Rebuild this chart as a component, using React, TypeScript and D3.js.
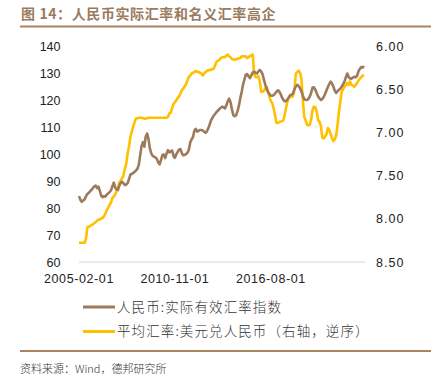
import React from "react";
import * as d3 from "d3";

const title = "图 14：人民币实际汇率和名义汇率高企";
const source = "资料来源：Wind，德邦研究所";
const seriesNames = ["人民币:实际有效汇率指数", "平均汇率:美元兑人民币（右轴，逆序）"];
const startMonth = "2005-02-01";
const tickLabels = ["2005-02-01", "2010-11-01", "2016-08-01"];
const leftTicks = [60, 70, 80, 90, 100, 110, 120, 130, 140];
const rightTicks = [6.0, 6.5, 7.0, 7.5, 8.0, 8.5];

// 人民币:实际有效汇率指数 (monthly, 2005-02 .. 2022-03)
const reer = [
  84.4, 83.0, 82.3, 82.8, 83.2, 84.3, 85.2, 85.6, 86.2, 86.7,
  87.4, 88.0, 88.3, 87.4, 87.9, 86.3, 84.5, 84.0, 84.4, 84.2,
  85.0, 85.4, 85.9, 86.5, 88.0, 89.4, 87.6, 86.9, 86.7, 88.3,
  89.3, 89.7, 89.2, 88.5, 88.7, 89.2, 90.8, 92.4, 92.6, 93.0,
  93.4, 93.9, 94.5, 96.0, 99.5, 103.0, 104.4, 102.7, 106.5, 107.6,
  105.5, 102.0, 100.2, 99.3, 99.0, 98.7, 98.2, 96.8, 96.2, 97.8,
  99.6, 99.8, 98.5, 100.2, 101.4, 100.6, 101.0, 101.3, 99.2, 98.6,
  99.9, 100.8, 101.7, 101.8, 100.2, 99.5, 99.7, 99.9, 100.5, 101.5,
  104.3, 105.4, 106.3, 108.6, 109.3, 108.3, 108.6, 108.9, 108.9, 108.7,
  108.3, 107.8, 108.4, 109.5, 111.0, 112.5, 113.4, 114.3, 114.9, 115.6,
  116.1, 116.7, 117.1, 117.5, 117.3, 116.9, 118.0, 119.6, 120.5, 119.2,
  116.6, 114.4, 114.0, 114.3, 115.9, 117.8, 120.6, 123.0, 125.7, 127.6,
  129.4, 129.6, 128.7, 128.1, 129.2, 130.2, 130.5, 130.0, 129.8, 130.6,
  131.1, 130.6, 129.6, 127.6, 125.6, 124.2, 122.9, 122.2, 121.6, 121.6,
  121.8, 122.4, 123.0, 123.6, 123.2, 122.2, 121.0, 120.1, 119.5, 119.6,
  120.3, 121.0, 121.8, 122.0, 122.5, 124.0, 125.0, 125.6, 125.2, 124.3,
  123.2, 121.6, 120.3, 120.1, 120.0, 120.4, 121.3, 122.7, 124.6, 124.7,
  123.8, 122.5, 121.3, 120.6, 120.0, 120.4, 121.1, 122.2, 123.5, 124.8,
  125.9, 126.8, 126.1, 124.9, 123.4, 122.6, 123.3, 123.8, 124.2, 125.0,
  125.9, 126.9, 128.5, 129.8, 128.4, 128.0, 127.9, 128.3, 128.6, 128.4,
  128.9, 130.6, 131.5, 132.2, 132.0, 132.6,
];

// 平均汇率:美元兑人民币 (monthly, right axis, reversed)
const usdcny = [
  8.277, 8.277, 8.277, 8.277, 8.277, 8.233, 8.102, 8.09, 8.085, 8.07,
  8.065, 8.05, 8.04, 8.02, 8.01, 8.01, 7.995, 7.99, 7.97, 7.94,
  7.9, 7.87, 7.84, 7.81, 7.76, 7.74, 7.72, 7.68, 7.64, 7.58,
  7.56, 7.53, 7.5, 7.42, 7.36, 7.24, 7.16, 7.05, 6.99, 6.93,
  6.88, 6.84, 6.835, 6.83, 6.83, 6.83, 6.835, 6.84, 6.84, 6.835,
  6.83, 6.83, 6.83, 6.83, 6.83, 6.83, 6.83, 6.83, 6.83, 6.83,
  6.83, 6.83, 6.83, 6.83, 6.82, 6.78, 6.77, 6.72, 6.67, 6.65,
  6.63, 6.6, 6.58, 6.55, 6.51, 6.49, 6.47, 6.44, 6.4, 6.36,
  6.34, 6.32, 6.31, 6.3, 6.29, 6.3, 6.3, 6.31, 6.32, 6.34,
  6.32, 6.3, 6.29, 6.28, 6.28, 6.27, 6.27, 6.26, 6.22, 6.18,
  6.17, 6.16, 6.14, 6.13, 6.13, 6.13, 6.11, 6.1, 6.12, 6.13,
  6.15, 6.155, 6.16, 6.15, 6.15, 6.14, 6.14, 6.12, 6.12, 6.12,
  6.12, 6.14, 6.13, 6.115, 6.11, 6.1, 6.33, 6.36, 6.36, 6.35,
  6.4, 6.53, 6.53, 6.52, 6.49, 6.47, 6.53, 6.59, 6.64, 6.66,
  6.72, 6.8, 6.89, 6.89, 6.88, 6.875, 6.87, 6.86, 6.79, 6.71,
  6.64, 6.59, 6.57, 6.59, 6.58, 6.5, 6.32, 6.3, 6.285, 6.31,
  6.38, 6.62, 6.82, 6.86, 6.91, 6.92, 6.91, 6.85, 6.74, 6.7,
  6.71, 6.76, 6.86, 6.875, 6.93, 7.06, 7.07, 7.05, 7.02, 6.95,
  6.97, 7.02, 7.07, 7.1, 7.08, 7.03, 6.91, 6.76, 6.64, 6.53,
  6.5, 6.47, 6.45, 6.43, 6.45, 6.41, 6.45, 6.46, 6.47, 6.45,
  6.43, 6.4, 6.38, 6.36, 6.345, 6.335,
];

const BROWN = "#9c7a5b";
const YELLOW = "#ffc000";
const RULE = "#a88462";

export default function App() {
  const W = 438;
  const H = 383;
  const fmt = d3.timeFormat("%Y-%m-%d");
  const start = d3.timeParse("%Y-%m-%d")(startMonth) as Date;
  const months = reer.map((_, i) => fmt(d3.timeMonth.offset(start, i)));

  const x = d3.scalePoint<string>().domain(months).range([79, 364]);
  const yL = d3.scaleLinear().domain([60, 140]).range([262, 46]);
  const yR = d3.scaleLinear().domain([6, 8.5]).range([46, 262]);

  const lineL = d3
    .line<number>()
    .x((_, i) => x(months[i]) as number)
    .y((d) => yL(d));
  const lineR = d3
    .line<number>()
    .x((_, i) => x(months[i]) as number)
    .y((d) => yR(d));

  const tickFont = "'Liberation Sans', Arial, sans-serif";
  const cjkFont = "'Noto Sans CJK SC', 'Noto Sans', sans-serif";

  return (
    <svg
      width={W}
      height={H}
      style={{ position: "absolute", left: 0, top: 0, background: "#fff" }}
    >
      <text
        x={21}
        y={19}
        fontFamily={cjkFont}
        fontSize={14}
        fontWeight={700}
        fill="#9a7b5e"
        letterSpacing={0.6}
      >
        {title}
      </text>
      <line x1={20} x2={431} y1={26.5} y2={26.5} stroke={RULE} strokeWidth={2} />

      {/* bottom gridline */}
      <line x1={79} x2={365} y1={yL(60)} y2={yL(60)} stroke="#e3e3e3" strokeWidth={1.5} />

      {leftTicks.map((t) => (
        <text
          key={"l" + t}
          x={60.5}
          y={yL(t)}
          dy="0.36em"
          textAnchor="end"
          fontFamily={tickFont}
          fontSize={12.5}
          fill="#222"
        >
          {t}
        </text>
      ))}
      {rightTicks.map((t) => (
        <text
          key={"r" + t}
          x={376}
          y={yR(t)}
          dy="0.36em"
          textAnchor="start"
          fontFamily={tickFont}
          fontSize={12.5}
          letterSpacing={1}
          fill="#222"
        >
          {t.toFixed(2)}
        </text>
      ))}
      {tickLabels.map((t) => (
        <text
          key={"x" + t}
          x={x(t) as number}
          y={278}
          dy="0.36em"
          textAnchor="middle"
          fontFamily={tickFont}
          fontSize={12.5}
          letterSpacing={0.6}
          fill="#222"
        >
          {t}
        </text>
      ))}

      <path d={lineR(usdcny) || ""} fill="none" stroke={YELLOW} strokeWidth={2.6} strokeLinejoin="round" />
      <path d={lineL(reer) || ""} fill="none" stroke={BROWN} strokeWidth={2.6} strokeLinejoin="round" />

      {/* legend */}
      {seriesNames.map((name, i) => (
        <g key={name} transform={`translate(0, ${307 + i * 24.5})`}>
          <line x1={83} x2={115} y1={0} y2={0} stroke={i === 0 ? BROWN : YELLOW} strokeWidth={3} />
          <text
            x={117}
            y={0}
            dy="0.36em"
            fontFamily={cjkFont}
            fontSize={13.5}
            fontWeight={300}
            letterSpacing={1.1}
            fill="#333"
          >
            {name}
          </text>
        </g>
      ))}

      <line x1={20} x2={431} y1={351} y2={351} stroke={RULE} strokeWidth={2} />
      <text x={20} y={369} dy="0.36em" fontFamily={cjkFont} fontSize={11} fontWeight={300} fill="#333">
        {source}
      </text>
    </svg>
  );
}
